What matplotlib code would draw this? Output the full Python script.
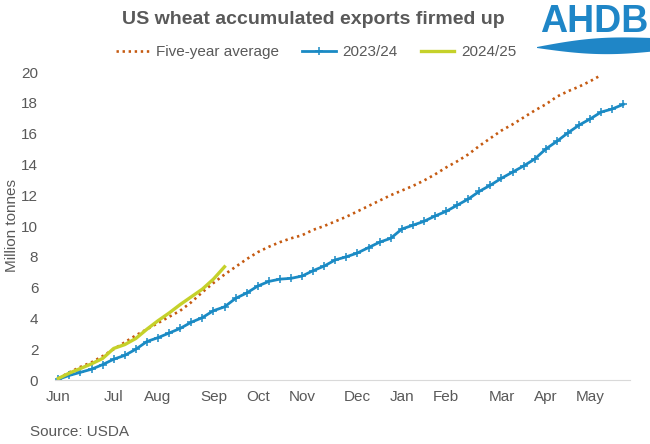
import numpy as np
import matplotlib
matplotlib.use("Agg")
import matplotlib.pyplot as plt
from matplotlib.patches import Polygon

# weekly cumulative US wheat exports (Mt), marketing year starting June
months = ["Jun", "Jul", "Aug", "Sep", "Oct", "Nov", "Dec", "Jan", "Feb", "Mar", "Apr", "May"]
month_weeks = [0, 5, 9, 14, 18, 22, 27, 31, 35, 40, 44, 48]

five_year_avg = [0.1, 0.5, 0.85, 1.15, 1.55, 2.0, 2.45, 2.9, 3.3, 3.7,
                 4.1, 4.5, 5.05, 5.7, 6.3, 6.85, 7.35, 7.85, 8.3, 8.65,
                 8.95, 9.2, 9.4, 9.75, 10.0, 10.3, 10.6, 10.95, 11.3, 11.65,
                 12.0, 12.3, 12.6, 12.95, 13.35, 13.8, 14.2, 14.65, 15.2, 15.7,
                 16.2, 16.6, 17.05, 17.5, 17.9, 18.4, 18.75, 19.05, 19.4, 19.8]
y2023 = [0.05, 0.3, 0.5, 0.7, 1.0, 1.35, 1.6, 2.0, 2.5, 2.75,
         3.05, 3.35, 3.75, 4.05, 4.5, 4.75, 5.3, 5.65, 6.1, 6.4,
         6.55, 6.6, 6.75, 7.1, 7.4, 7.8, 8.0, 8.25, 8.6, 8.95,
         9.2, 9.8, 10.05, 10.3, 10.65, 10.95, 11.35, 11.75, 12.25, 12.65,
         13.1, 13.5, 13.9, 14.35, 15.0, 15.5, 16.05, 16.55, 16.95, 17.4,
         17.6, 17.9]
y2024 = [0.1, 0.45, 0.75, 1.05, 1.4, 2.05, 2.3, 2.7, 3.3, 3.85,
         4.35, 4.9, 5.4, 5.9, 6.55, 7.35]

GREY = "#595959"
LOGO = "#1F86C7"
plt.rcParams["font.family"] = ["Liberation Sans", "DejaVu Sans"]

fig = plt.figure(figsize=(6.5, 4.44), dpi=100)
ax = fig.add_axes([55 / 650, 1 - 380 / 444, 575 / 650, 308 / 444])

ax.plot(np.arange(len(five_year_avg)), five_year_avg, color="#C55A11", lw=1.9,
        linestyle=(0, (0.9, 1.4)), label="Five-year average")
ax.plot(np.arange(len(y2023)), y2023, color="#1A8AC4", lw=2.0, marker="+",
        markersize=6, markeredgewidth=1.1, label="2023/24")
ax.plot(np.arange(len(y2024)), y2024, color="#C5D12A", lw=2.4, label="2024/25")

ax.set_xlim(-0.3, 51.6)
ax.set_ylim(0, 20)
ax.set_yticks(range(0, 21, 2))
ax.set_xticks(month_weeks)
ax.set_xticklabels(months)
ax.tick_params(axis="both", length=0, labelsize=11, colors=GREY)
ax.tick_params(axis="x", pad=7)
ax.tick_params(axis="y", pad=12)
for s in ["top", "right", "left"]:
    ax.spines[s].set_visible(False)
ax.spines["bottom"].set_color("#D9D9D9")
ax.set_ylabel("Million tonnes", fontsize=11, color=GREY)
ax.yaxis.set_label_coords(-0.062, 0.5)

fig.text(313 / 650, 1 - 20 / 444, "US wheat accumulated exports firmed up", ha="center",
         va="center", fontsize=14, fontweight="bold", color=GREY)
fig.legend(loc="center", bbox_to_anchor=(316 / 650, 1 - 52 / 444), ncol=3, frameon=False,
           fontsize=11, handlelength=2.2, handletextpad=0.45, columnspacing=1.5,
           labelcolor=GREY)
fig.text(30 / 650, 1 - 432 / 444, "Source: USDA", ha="left", va="center",
         fontsize=11, color=GREY)

# AHDB logo: bold letters over a blue swoosh
fig.text(594 / 650, 1 - 22 / 444, "AHDB", ha="center", va="center", fontsize=27,
         fontweight="bold", color=LOGO)
t = np.linspace(0, 1, 50)
xs = 537 + 115 * t
top = 47 - 9 * t - 4 * np.sin(np.pi * t)
bot = 48 + 5 * np.sin(np.pi * t * 0.9) + 2 * t
pts = np.concatenate([np.column_stack([xs, top]), np.column_stack([xs[::-1], bot[::-1]])])
pts[:, 0] /= 650
pts[:, 1] = 1 - pts[:, 1] / 444
fig.patches.append(Polygon(pts, closed=True, transform=fig.transFigure,
                           color=LOGO, lw=0))

fig.savefig("out.png", dpi=100)
